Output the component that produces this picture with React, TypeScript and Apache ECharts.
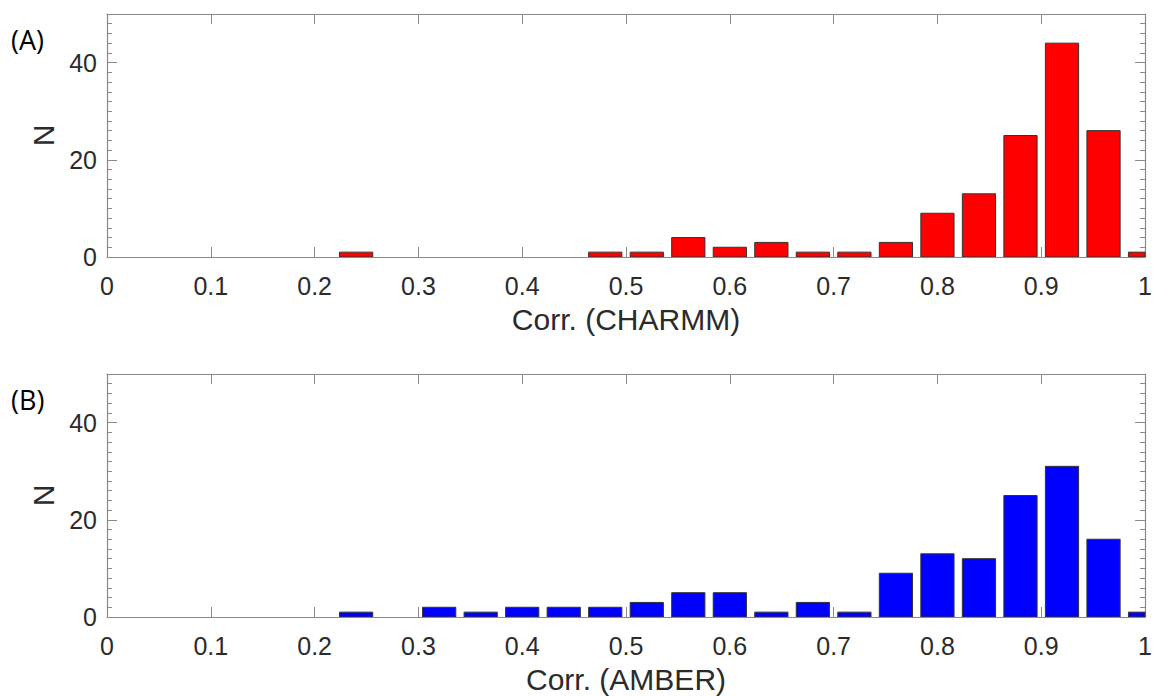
import React, { useEffect, useRef } from "react";
import * as echarts from "echarts";

// Histogram of correlations (bin centres and counts)
const charmmBins = [0.24, 0.48, 0.52, 0.56, 0.6, 0.64, 0.68, 0.72, 0.76, 0.8, 0.84, 0.88, 0.92, 0.96, 1.0];
const charmmCounts = [1, 1, 1, 4, 2, 3, 1, 1, 3, 9, 13, 25, 44, 26, 1];

const amberBins = [0.24, 0.32, 0.36, 0.4, 0.44, 0.48, 0.52, 0.56, 0.6, 0.64, 0.68, 0.72, 0.76, 0.8, 0.84, 0.88, 0.92, 0.96, 1.0];
const amberCounts = [1, 2, 1, 2, 2, 2, 3, 5, 5, 1, 3, 1, 9, 13, 12, 25, 31, 16, 1];

const xTickValues = [0, 0.1, 0.2, 0.3, 0.4, 0.5, 0.6, 0.7, 0.8, 0.9, 1];
const yLabelValues = [0, 20, 40];
const yMinorValues = [0, 2, 4, 6, 8, 10, 12, 14, 16, 18, 20, 22, 24, 26, 28, 30, 32, 34, 36, 38, 40, 42, 44, 46, 48, 50];

const panelLabels = ["(A)", "(B)"];
const xNames = ["Corr. (CHARMM)", "Corr. (AMBER)"];

const FONT = "'Liberation Sans', Arial, sans-serif";
const AXIS_GREY = "#8a8a8a";
const TEXT = "#2b2b2b";
const HALF_BAR = 0.016; // bar drawn 0.032 wide in a 0.04 bin

export default function App() {
  const ref = useRef<HTMLDivElement>(null);

  useEffect(() => {
    if (!ref.current) return;
    const chart = echarts.init(ref.current, null, { renderer: "svg" });

    const panels = [
      { bins: charmmBins, counts: charmmCounts, color: "#ff0000", top: 14 },
      { bins: amberBins, counts: amberCounts, color: "#0000ff", top: 374 },
    ];
    const gridH = 243;

    const grid: any[] = [];
    const xAxis: any[] = [];
    const yAxis: any[] = [];
    const series: any[] = [];
    const graphic: any[] = [];

    const lineStyle = { color: AXIS_GREY, width: 1.2 };
    const tickStyle = { color: AXIS_GREY, width: 1 };

    panels.forEach((p, i) => {
      grid.push({ left: 107, right: 6, top: p.top, height: gridH, containLabel: false });

      // bottom x axis (labelled)
      xAxis.push({
        type: "value",
        gridIndex: i,
        position: "bottom",
        min: 0,
        max: 1,
        interval: 0.1,
        name: xNames[i],
        nameLocation: "middle",
        nameGap: 47,
        nameTextStyle: { fontFamily: FONT, fontSize: 30, color: TEXT },
        axisLine: { show: true, onZero: false, lineStyle },
        axisTick: { show: true, inside: true, length: 10, lineStyle: tickStyle },
        axisLabel: {
          fontFamily: FONT,
          fontSize: 25,
          color: TEXT,
          margin: 16,
          customValues: xTickValues,
          formatter: (v: number) => String(+v.toFixed(1)),
        },
        splitLine: { show: false },
      });
      // top x axis (box)
      xAxis.push({
        type: "value",
        gridIndex: i,
        position: "top",
        min: 0,
        max: 1,
        interval: 0.1,
        axisLine: { show: true, onZero: false, lineStyle },
        axisTick: { show: true, inside: true, length: 10, lineStyle: tickStyle },
        axisLabel: { show: false },
        splitLine: { show: false },
      });

      // left y axis: minor ticks + labels
      yAxis.push({
        type: "value",
        gridIndex: i,
        position: "left",
        min: 0,
        max: 50,
        interval: 2,
        name: "N",
        nameLocation: "middle",
        nameGap: 41,
        nameRotate: 90,
        nameTextStyle: { fontFamily: FONT, fontSize: 30, color: TEXT },
        axisLine: { show: true, onZero: false, lineStyle },
        axisTick: { show: true, inside: true, length: 5, customValues: yMinorValues, lineStyle: tickStyle },
        axisLabel: { fontFamily: FONT, fontSize: 25, color: TEXT, margin: 10, customValues: yLabelValues },
        splitLine: { show: false },
      });
      // left y axis: major ticks
      yAxis.push({
        type: "value",
        gridIndex: i,
        position: "left",
        min: 0,
        max: 50,
        interval: 2,
        axisLine: { show: false, onZero: false },
        axisTick: { show: true, inside: true, length: 10, customValues: yLabelValues, lineStyle: tickStyle },
        axisLabel: { show: false },
        splitLine: { show: false },
      });
      // right y axis: minor ticks
      yAxis.push({
        type: "value",
        gridIndex: i,
        position: "right",
        min: 0,
        max: 50,
        interval: 2,
        axisLine: { show: true, onZero: false, lineStyle },
        axisTick: { show: true, inside: true, length: 5, customValues: yMinorValues, lineStyle: tickStyle },
        axisLabel: { show: false },
        splitLine: { show: false },
      });
      // right y axis: major ticks
      yAxis.push({
        type: "value",
        gridIndex: i,
        position: "right",
        min: 0,
        max: 50,
        interval: 2,
        axisLine: { show: false, onZero: false },
        axisTick: { show: true, inside: true, length: 10, customValues: yLabelValues, lineStyle: tickStyle },
        axisLabel: { show: false },
        splitLine: { show: false },
      });

      const color = p.color;
      series.push({
        type: "custom",
        xAxisIndex: 2 * i,
        yAxisIndex: 4 * i,
        clip: true,
        encode: { x: 0, y: 1 },
        data: p.bins.map((b, k) => [b, p.counts[k]]),
        renderItem: (params: any, api: any) => {
          const x = api.value(0);
          const v = api.value(1);
          const p0 = api.coord([x - HALF_BAR, v]);
          const p1 = api.coord([x + HALF_BAR, 0]);
          const cs = params.coordSys;
          const shape = echarts.graphic.clipRectByRect(
            { x: p0[0], y: p0[1], width: p1[0] - p0[0], height: p1[1] - p0[1] },
            { x: cs.x, y: cs.y, width: cs.width, height: cs.height }
          );
          return shape
            ? {
                type: "rect",
                shape,
                style: { fill: color, stroke: "#333333", lineWidth: 1 },
              }
            : null;
        },
      });

      graphic.push({
        type: "text",
        left: 11,
        top: p.top + 12,
        style: {
          text: panelLabels[i],
          fontFamily: "'Open Sans', 'Noto Sans', sans-serif",
          fontSize: 27,
          fill: "#000000",
        },
      });
    });

    chart.setOption({
      animation: false,
      backgroundColor: "#ffffff",
      grid,
      xAxis,
      yAxis,
      series,
      graphic,
    });

    return () => chart.dispose();
  }, []);

  return (
    <div
      ref={ref}
      style={{ position: "absolute", left: 0, top: 0, width: 1155, height: 696 }}
    />
  );
}
